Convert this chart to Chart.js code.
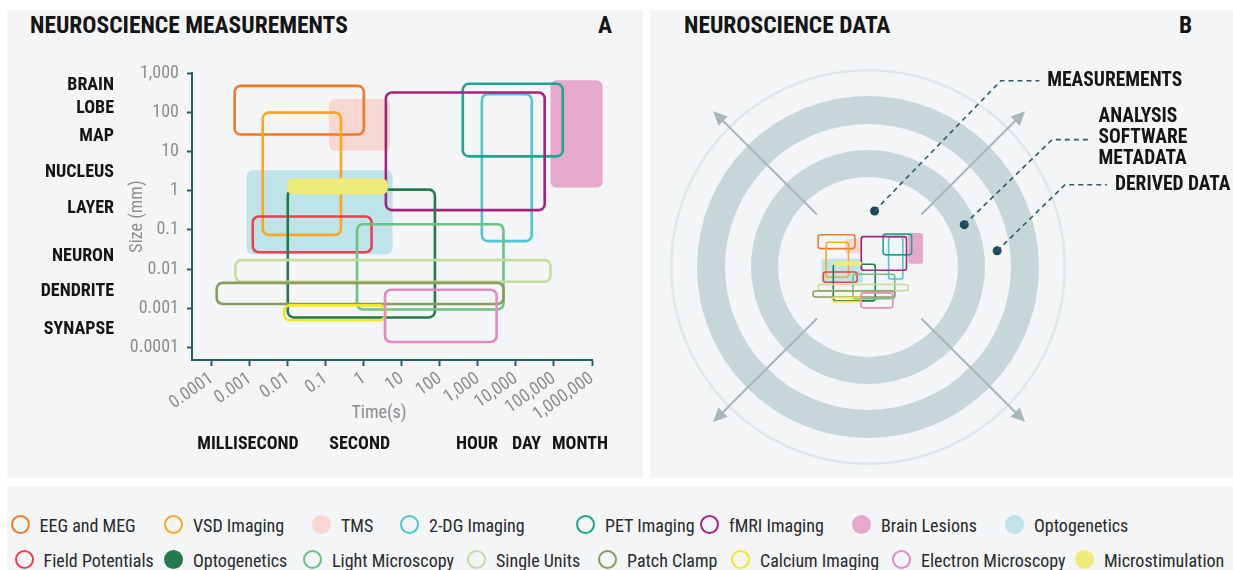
<!DOCTYPE html>
<html>
<head>
<meta charset="utf-8">
<script src="https://cdn.jsdelivr.net/npm/chart.js@4.4.1/dist/chart.umd.min.js"></script>
<style>
html,body{margin:0;padding:0;background:#ffffff;width:1233px;height:570px;overflow:hidden;
  font-family:'Roboto Condensed','DejaVu Sans Condensed',sans-serif;}
.panel{position:absolute;background:#f3f5f7;}
#pa{left:7px;top:10px;width:636px;height:468px;}
#pb{left:650px;top:10px;width:583px;height:468px;}
#pl{left:7px;top:486px;width:1226px;height:84px;}
.ttl{position:absolute;font-weight:bold;font-size:23.5px;line-height:23.5px;color:#151515;white-space:nowrap;}
.axt{position:absolute;font-size:18px;line-height:18px;color:#8d8d8d;white-space:nowrap;transform:translateX(-50%);}
canvas{position:absolute;}
.lgi{position:absolute;font-size:18px;line-height:18px;color:#2a2a2a;white-space:nowrap;}
.dot{position:absolute;box-sizing:border-box;width:19px;height:19px;border-radius:50%;}
</style>
</head>
<body>
<div class="panel" id="pa"></div>
<div class="panel" id="pb"></div>
<div class="panel" id="pl"></div>

<div class="ttl" style="left:30px;top:13.5px;">NEUROSCIENCE MEASUREMENTS</div>
<div class="ttl" style="left:598px;top:13.5px;">A</div>
<div class="ttl" style="left:684px;top:13.5px;">NEUROSCIENCE DATA</div>
<div class="ttl" style="left:1179px;top:13.5px;">B</div>
<div class="axt" style="left:379px;top:403px;">Time(s)</div>

<canvas id="cA" width="643" height="482" style="left:0;top:0;"></canvas>
<canvas id="cRing" width="396" height="396" style="left:670px;top:69px;"></canvas>
<canvas id="cNote" width="583" height="468" style="left:650px;top:10px;"></canvas>
<canvas id="cMini" width="134" height="102" style="left:796px;top:221px;"></canvas>
<div id="legend"></div>

<script>
// ---------------- DATA ----------------
const techniques = ['EEG and MEG','VSD Imaging','TMS','2-DG Imaging','PET Imaging','fMRI Imaging','Brain Lesions','Optogenetics',
  'Field Potentials','Optogenetics','Light Microscopy','Single Units','Patch Clamp','Calcium Imaging','Electron Microscopy','Microstimulation'];
// time span (s)
const timeMin = [4.0e-4, 0.0022, 0.12, 1270, 400, 3.8, 81000, 8.3e-4, 1.2e-3, 0.01, 0.66, 4.2e-4, 1.35e-4, 0.008, 3.6, 0.0095];
const timeMax = [1.0, 0.25, 4.9, 26000, 170000, 57000, 1.9e6, 5.7, 1.6, 74, 4700, 81000, 4700, 3.7, 3100, 4.3];
// size span (mm)
const sizeMin = [27, 0.075, 10.4, 0.052, 7.5, 0.32, 1.2, 0.024, 0.027, 5.9e-4, 9.4e-4, 0.0048, 0.0013, 5.0e-4, 1.4e-4, 0.8];
const sizeMax = [470, 98, 216, 290, 530, 318, 650, 3.35, 0.22, 1.07, 0.14, 0.017, 0.0045, 0.0012, 0.003, 2.05];

const timeRange = [3.03e-5, 1e6];
const sizeRange = [4.86e-5, 1000];
const timeTicks = [1e-4, 1e-3, 1e-2, 0.1, 1, 10, 100, 1000, 1e4, 1e5, 1e6];
const timeTickLabels = ['0.0001','0.001','0.01','0.1','1','10','100','1,000','10,000','100,000','1,000,000'];
const sizeTicks = [1000, 100, 10, 1, 0.1, 0.01, 0.001, 0.0001];
const sizeTickLabels = ['1,000','100','10','1','0.1','0.01','0.001','0.0001'];
const timeScaleValues = [9.0e-4, 0.78, 946, 18970, 483000];
const timeScaleLabels = ['MILLISECOND','SECOND','HOUR','DAY','MONTH'];
const sizeScaleValues = [494, 126, 23.8, 2.86, 0.363, 0.0208, 0.00267, 2.87e-4];
const sizeScaleLabels = ['BRAIN','LOBE','MAP','NUCLEUS','LAYER','NEURON','DENDRITE','SYNAPSE'];

// panel B diagram (units relative to the ring centre)
const ringWeights = [2.5, 24.5, 28, 26, 27];
const arrowFrom = [{x:-53,y:53},{x:53,y:53},{x:-53,y:-53},{x:53,y:-53}];
const arrowTo   = [{x:-157,y:157},{x:157,y:157},{x:-157,y:-157},{x:157,y:-157}];
const leaderPaths = [
  [{x:5.5,y:56.7},{x:133.8,y:189.4},{x:172.8,y:189.4}],
  [{x:96.6,y:42.7},{x:185.8,y:129.4},{x:224.9,y:129.4}],
  [{x:130,y:16},{x:198.9,y:83.4},{x:241.6,y:83.4}]
];
const leaderLabels = [['MEASUREMENTS'],['ANALYSIS','SOFTWARE','METADATA'],['DERIVED DATA']];

// ---------------- STYLE ----------------
const colors = ['#f07a2a','#f9a71c','#f6d7d2','#4cc5d8','#1ba68e','#a82280','#e6a8cb','#bee4ea',
  '#ee3f4f','#25794b','#6cc27f','#c6dc9d','#8b9c5c','#f3e81d','#e48ac0','#efeb7b'];
const filled = [false,false,true,false,false,false,true,true,false,true,false,false,false,false,false,true];
const boxFilled = [false,false,true,false,false,false,true,true,false,false,false,false,false,false,false,true];
const layer = [1,1,0,1,1,1,0,0,1,1,1,1,1,1,1,2];
const legendTextX = [39.5,193,341,429,605,729,881,1034, 43.5,193,332,496,627,760,921,1104];
const legendRowY = [516.5, 551.5];
const FONT = "'Roboto Condensed','DejaVu Sans Condensed',sans-serif";
const AXIS = '#2c5b6c', TICKC = '#8d8d8d';

Chart.defaults.font.family = FONT;

const boxPlugin = {
  id: 'boxes',
  afterDatasetsDraw(chart, args, opts) {
    const ctx = chart.ctx;
    const idx = chart.data.datasets.map((d, i) => i).sort((a, b) => layer[a] - layer[b]);
    ctx.save();
    idx.forEach(i => {
      const pts = chart.getDatasetMeta(i).data;
      const p0 = pts[0], p1 = pts[1];
      const x = Math.min(p0.x, p1.x), y = Math.min(p0.y, p1.y);
      const w = Math.abs(p1.x - p0.x), h = Math.abs(p1.y - p0.y);
      ctx.beginPath();
      ctx.roundRect(x, y, w, h, Math.min(opts.radius, h / 2));
      if (boxFilled[i]) { ctx.fillStyle = colors[i]; ctx.fill(); }
      else { ctx.lineWidth = opts.lineWidth; ctx.strokeStyle = colors[i]; ctx.stroke(); }
    });
    ctx.restore();
  }
};

function boxDatasets() {
  return techniques.map((t, i) => ({
    label: t,
    data: [{x: timeMin[i], y: sizeMin[i]}, {x: timeMax[i], y: sizeMax[i]}],
    pointRadius: 0, pointHoverRadius: 0, showLine: false,
    borderColor: colors[i], backgroundColor: colors[i]
  }));
}

// ---------------- CHART A ----------------
new Chart(document.getElementById('cA'), {
  type: 'scatter',
  data: { datasets: boxDatasets() },
  options: {
    responsive: false, animation: false, events: [],
    layout: { padding: { top: 73, right: 51, bottom: 22, left: 0 } },
    plugins: { legend: { display: false }, tooltip: { enabled: false }, boxes: { lineWidth: 2.6, radius: 6 } },
    scales: {
      x: {
        type: 'logarithmic', position: 'bottom', weight: 0, min: timeRange[0], max: timeRange[1],
        afterBuildTicks: s => { s.ticks = timeTicks.map(v => ({ value: v })); },
        afterFit: s => { s.height = 60; },
        grid: { drawOnChartArea: false, drawTicks: true, tickLength: 6, tickColor: AXIS, tickWidth: 2 },
        border: { display: true, color: AXIS, width: 2 },
        ticks: { autoSkip: false, minRotation: 35, maxRotation: 35, padding: 2, color: TICKC,
          font: { size: 18 }, callback: (v, i) => timeTickLabels[i] }
      },
      xc: {
        type: 'logarithmic', position: 'bottom', weight: 1, min: timeRange[0], max: timeRange[1],
        afterBuildTicks: s => { s.ticks = timeScaleValues.map(v => ({ value: v })); },
        afterFit: s => { s.height = 40; },
        grid: { display: false, drawTicks: false },
        border: { display: false },
        ticks: { autoSkip: false, minRotation: 0, maxRotation: 0, padding: 14, color: '#151515',
          font: { size: 18, weight: 'bold' }, callback: (v, i) => timeScaleLabels[i] }
      },
      y: {
        type: 'logarithmic', position: 'left', weight: 0, min: sizeRange[0], max: sizeRange[1],
        afterBuildTicks: s => { s.ticks = sizeTicks.map(v => ({ value: v })); },
        afterFit: s => { s.width = 72; },
        grid: { drawOnChartArea: false, drawTicks: true, tickLength: 5, tickColor: AXIS, tickWidth: 2 },
        border: { display: true, color: AXIS, width: 2 },
        ticks: { autoSkip: false, padding: 8, color: TICKC, font: { size: 18 }, callback: (v, i) => sizeTickLabels[i] },
        title: { display: true, text: 'Size (mm)', color: TICKC, font: { size: 18 }, padding: { top: 7, bottom: 0 } }
      },
      yc: {
        type: 'logarithmic', position: 'left', weight: 1, min: sizeRange[0], max: sizeRange[1],
        afterBuildTicks: s => { s.ticks = sizeScaleValues.map(v => ({ value: v })); },
        afterFit: s => { s.width = 120; },
        grid: { display: false, drawTicks: false },
        border: { display: false },
        ticks: { autoSkip: false, padding: 6, color: '#151515', font: { size: 18, weight: 'bold' },
          callback: (v, i) => sizeScaleLabels[i] }
      }
    }
  },
  plugins: [boxPlugin]
});

// ---------------- CHART B: rings ----------------
const ringColors = ['#dfe7e9', 'rgba(0,0,0,0)', '#c6d6d9', 'rgba(0,0,0,0)', '#c6d6d9'];
new Chart(document.getElementById('cRing'), {
  type: 'doughnut',
  data: {
    labels: ['ring'],
    datasets: ringWeights.map((w, i) => ({ data: [1], weight: w, backgroundColor: ringColors[i], borderWidth: 0 }))
  },
  options: {
    responsive: false, animation: false, events: [], cutout: 90,
    layout: { padding: 0 },
    plugins: { legend: { display: false }, tooltip: { enabled: false } }
  }
});

// ---------------- CHART B: arrows, leaders, labels ----------------
const arrowPlugin = {
  id: 'arrowheads',
  afterDatasetsDraw(chart) {
    const ctx = chart.ctx;
    chart.data.datasets.forEach((ds, i) => {
      if (ds.kind !== 'arrow') return;
      const pts = chart.getDatasetMeta(i).data;
      const a = pts[0], b = pts[1];
      const ang = Math.atan2(b.y - a.y, b.x - a.x);
      ctx.save();
      ctx.translate(b.x, b.y); ctx.rotate(ang);
      ctx.beginPath(); ctx.moveTo(2, 0); ctx.lineTo(-12, -6.5); ctx.lineTo(-12, 6.5); ctx.closePath();
      ctx.fillStyle = ds.borderColor; ctx.fill();
      ctx.restore();
    });
  }
};
const labelPlugin = {
  id: 'leaderLabels',
  afterDatasetsDraw(chart) {
    const ctx = chart.ctx;
    ctx.save();
    ctx.font = 'bold 19.5px ' + FONT;
    ctx.fillStyle = '#151515';
    ctx.textBaseline = 'middle';
    ctx.textAlign = 'left';
    chart.data.datasets.forEach((ds, i) => {
      if (ds.kind !== 'leader') return;
      const pts = chart.getDatasetMeta(i).data;
      const end = pts[pts.length - 1];
      const lines = leaderLabels[ds.leaderIndex];
      const lh = 21;
      const y0 = end.y - (lines.length - 1) * lh / 2 + (lines.length > 1 ? -2 : 0);
      lines.forEach((t, k) => ctx.fillText(t, end.x + 8, y0 + k * lh));
    });
    ctx.restore();
  }
};
const noteSets = [];
arrowFrom.forEach((p, i) => noteSets.push({
  kind: 'arrow', data: [p, arrowTo[i]], showLine: true, borderColor: '#a7b7ba', borderWidth: 2, pointRadius: 0
}));
leaderPaths.forEach((path, i) => noteSets.push({
  kind: 'leader', leaderIndex: i, data: path, showLine: true, borderColor: '#2e5d6d', borderWidth: 1.6,
  borderDash: [5, 4], pointRadius: 0
}));
noteSets.push({
  kind: 'dot', data: leaderPaths.map(p => p[0]), showLine: false, pointRadius: 4.5,
  backgroundColor: '#1b4a5b', borderWidth: 0
});
new Chart(document.getElementById('cNote'), {
  type: 'scatter',
  data: { datasets: noteSets },
  options: {
    responsive: false, animation: false, events: [],
    layout: { padding: 0 },
    plugins: { legend: { display: false }, tooltip: { enabled: false } },
    scales: {
      x: { type: 'linear', display: false, min: -218, max: 365 },
      y: { type: 'linear', display: false, min: -211, max: 257 }
    }
  },
  plugins: [arrowPlugin, labelPlugin]
});

// ---------------- CHART B: miniature of A ----------------
new Chart(document.getElementById('cMini'), {
  type: 'scatter',
  data: { datasets: boxDatasets() },
  options: {
    responsive: false, animation: false, events: [],
    layout: { padding: 10 },
    plugins: { legend: { display: false }, tooltip: { enabled: false }, boxes: { lineWidth: 1.6, radius: 2.5 } },
    scales: {
      x: { type: 'logarithmic', display: false, min: timeRange[0], max: timeRange[1] },
      y: { type: 'logarithmic', display: false, min: sizeRange[0], max: sizeRange[1] }
    }
  },
  plugins: [boxPlugin]
});

// ---------------- LEGEND ----------------
const lg = document.getElementById('legend');
techniques.forEach((t, i) => {
  const row = i < 8 ? 0 : 1;
  const top = legendRowY[row];
  const d = document.createElement('div');
  d.className = 'dot';
  d.style.left = (legendTextX[i] - 29) + 'px';
  d.style.top = (top - 1.8) + 'px';
  if (filled[i]) d.style.background = colors[i];
  else d.style.border = '2.6px solid ' + colors[i];
  lg.appendChild(d);
  const s = document.createElement('div');
  s.className = 'lgi';
  s.style.left = legendTextX[i] + 'px';
  s.style.top = top + 'px';
  s.textContent = t;
  lg.appendChild(s);
});
</script>
</body>
</html>
